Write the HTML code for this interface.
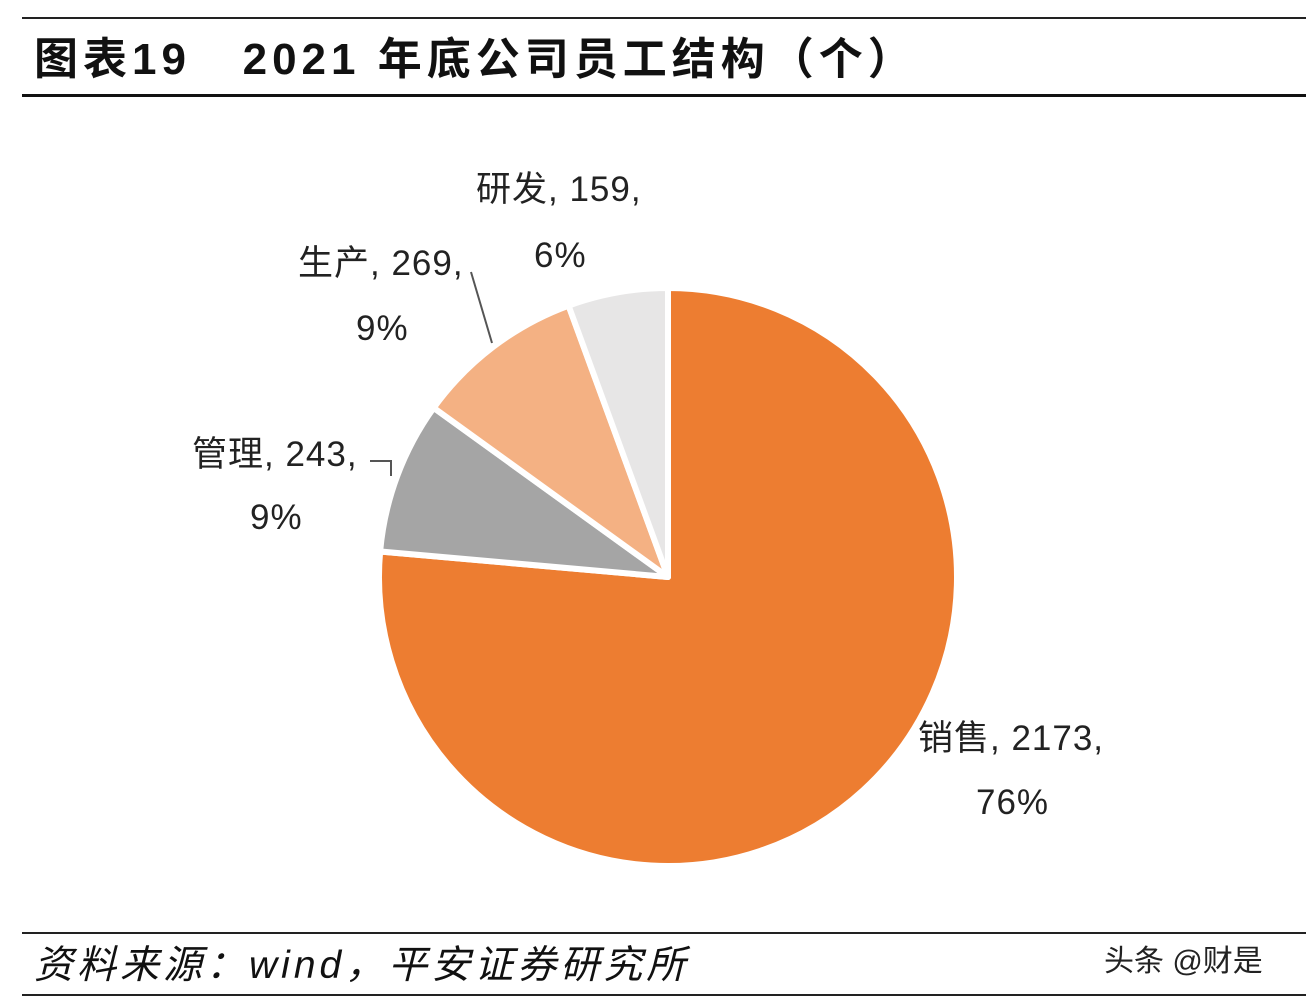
<!DOCTYPE html>
<html><head><meta charset="utf-8">
<style>
body{margin:0;background:#fff;width:1306px;height:1004px;overflow:hidden;position:relative;font-family:"Liberation Sans","Noto Sans CJK SC",sans-serif;}
.abs{position:absolute;}
</style></head>
<body>
<div class="abs" style="left:22px;top:17px;width:1284px;height:2px;background:#222"></div>
<div class="abs" style="left:34px;top:30px;font-size:44px;letter-spacing:5px;font-weight:bold;color:#111;white-space:pre;line-height:60px">图表19   2021 年底公司员工结构（个）</div>
<div class="abs" style="left:22px;top:94px;width:1284px;height:3px;background:#111"></div>
<svg class="abs" style="left:0;top:0" width="1306" height="1004">
<g id="pie"></g>
<g id="labels" font-family="Liberation Sans, Noto Sans CJK SC, sans-serif" font-size="35" letter-spacing="1" fill="#222"></g>
<polyline points="471,272 492,343" stroke="#555" stroke-width="2" fill="none"/>
<polyline points="370,461 391,461 391,476" stroke="#555" stroke-width="2" fill="none"/>
</svg>
<div class="abs" style="left:22px;top:932px;width:1284px;height:2px;background:#222"></div>
<div class="abs" style="left:34px;top:940px;font-size:39px;letter-spacing:4px;font-style:italic;color:#111;line-height:52px">资料来源：wind，平安证券研究所</div>
<div class="abs" style="left:1104px;top:942px;font-size:30px;color:#222;line-height:40px">头条 @财是</div>
<div class="abs" style="left:22px;top:994px;width:1284px;height:2px;background:#222"></div>
<script>
const categories=["销售","管理","生产","研发"];
const values=[2173,243,269,159];
const percents=["76%","9%","9%","6%"];
const colors=["#ED7D31","#A5A5A5","#F4B183","#E7E6E6"];
const labelPos=[[918,750,976,814],[192,466,250,529],[298,275,356,340],[476,201,534,267]];
const cx=668,cy=577,r=289;
const total=values.reduce((a,b)=>a+b,0);
const NS="http://www.w3.org/2000/svg";
const g=document.getElementById('pie'),lg=document.getElementById('labels');
let a=0;
values.forEach((v,i)=>{
  const a0=a,a1=a+v/total*2*Math.PI;a=a1;
  const p=t=>[cx+r*Math.sin(t),cy-r*Math.cos(t)];
  const [x0,y0]=p(a0),[x1,y1]=p(a1);
  const path=document.createElementNS(NS,'path');
  path.setAttribute('d',`M${cx},${cy}L${x0},${y0}A${r},${r} 0 ${a1-a0>Math.PI?1:0} 1 ${x1},${y1}Z`);
  path.setAttribute('fill',colors[i]);path.setAttribute('stroke','#fff');path.setAttribute('stroke-width','6');path.setAttribute('stroke-linejoin','round');
  
  
  g.appendChild(path);
  const L=labelPos[i];
  const t1=document.createElementNS(NS,'text');t1.setAttribute('x',L[0]);t1.setAttribute('y',L[1]);t1.textContent=categories[i]+", "+values[i]+",";
  
  
  lg.appendChild(t1);
  const t2=document.createElementNS(NS,'text');t2.setAttribute('x',L[2]);t2.setAttribute('y',L[3]);t2.textContent=percents[i];
  
  
  lg.appendChild(t2);
});
</script>
</body></html>
